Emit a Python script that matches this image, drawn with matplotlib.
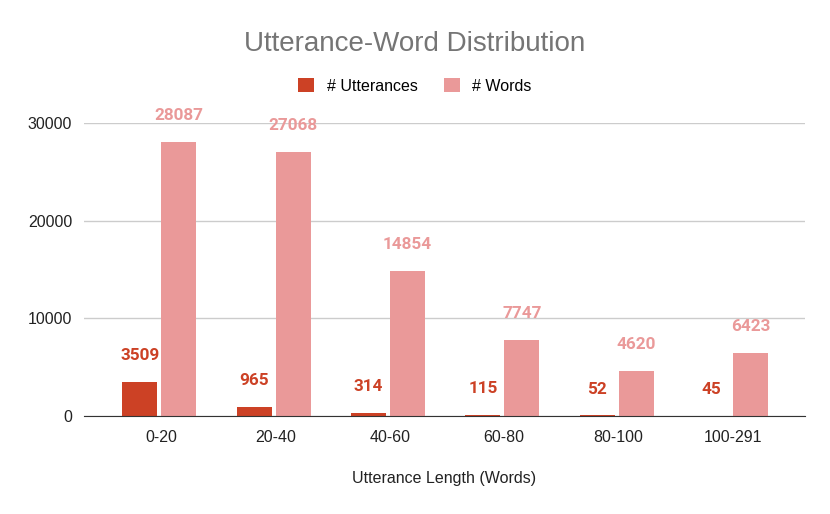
import numpy as np
import matplotlib.pyplot as plt

plt.rcParams['font.family'] = ['Liberation Sans', 'DejaVu Sans']

categories = ["0-20", "20-40", "40-60", "60-80", "80-100", "100-291"]
utterances = [3509, 965, 314, 115, 52, 45]
words = [28087, 27068, 14854, 7747, 4620, 6423]
yticks = [0, 10000, 20000, 30000]

c_utt = "#cc4125"
c_words = "#ea9999"

fig = plt.figure(figsize=(8.3, 5.14), dpi=100)
ax = fig.add_axes([84 / 830, 1 - 416 / 514, 721 / 830, (416 - 123) / 514])

x = np.arange(len(categories))
w = 0.306
off = 0.17
b1 = ax.bar(x - off - 0.015, utterances, width=w, color=c_utt, label="# Utterances", zorder=3)
b2 = ax.bar(x + off - 0.015, words, width=w, color=c_words, label="# Words", zorder=3)

for bars, vals, col in [(b1, utterances, c_utt), (b2, words, c_words)]:
    for rect, v in zip(bars, vals):
        ax.annotate(str(v), (rect.get_x() + rect.get_width() / 2, v),
                    xytext=(0, 19), textcoords="offset points",
                    ha="center", va="center", fontsize=12.3, fontweight="bold",
                    color=col, annotation_clip=False, family=["Roboto", "DejaVu Sans"])

ax.set_xlim(-0.673, 5.63)
ax.set_ylim(0, 30000)
ax.set_xticks(x)
ax.set_xticklabels(categories)
ax.set_yticks(yticks)
ax.tick_params(axis="both", length=0, labelsize=11.5, colors="#222222")
ax.tick_params(axis="x", pad=10)
ax.tick_params(axis="y", pad=8.5)
ax.grid(axis="y", color="#cccccc", lw=1, zorder=0)
for s in ["top", "right", "left"]:
    ax.spines[s].set_visible(False)
ax.spines["bottom"].set_color("#333333")
ax.spines["bottom"].set_zorder(4)

ax.set_xlabel("Utterance Length (Words)", fontsize=11.5, color="#222222", labelpad=19)

fig.text(0.5, 1 - 44 / 514, "Utterance-Word Distribution", ha="center", va="center",
         fontsize=20, color="#757575")
fig.legend(handles=[b1, b2], loc="center", bbox_to_anchor=(0.5, 1 - 86 / 514),
           ncol=2, frameon=False, fontsize=11.5, handlelength=1.0, handleheight=1.0,
           columnspacing=1.6, handletextpad=0.8)

fig.savefig("out.png", dpi=100)
